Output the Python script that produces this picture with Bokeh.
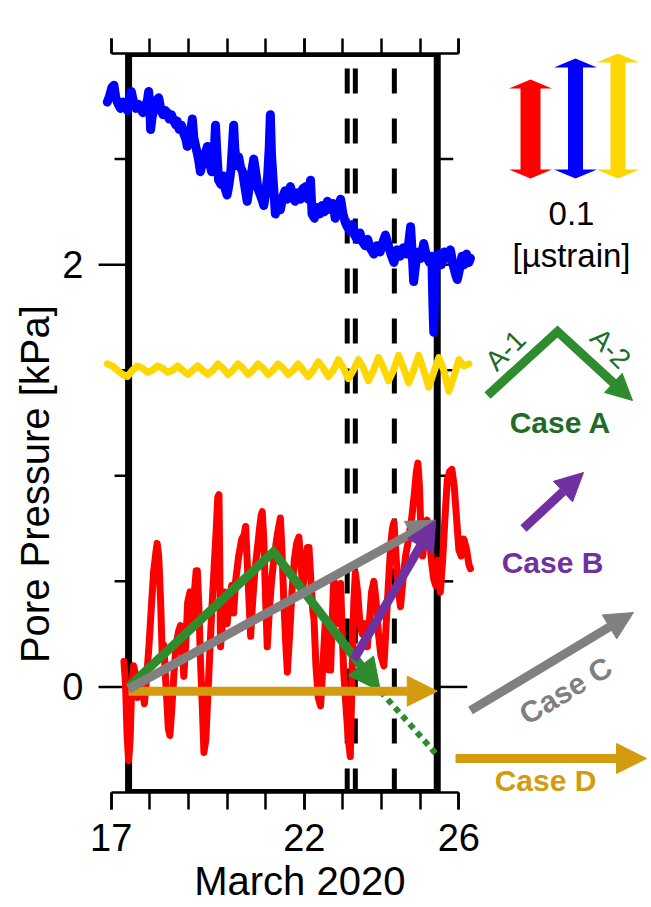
import math
from bokeh.plotting import figure
from bokeh.models import Range1d, FixedTicker, LinearAxis, Arrow, NormalHead, Label
from bokeh.embed import file_html
from bokeh.resources import INLINE

# ---------------- data ----------------
blue_days = [16.90, 16.96, 17.02, 17.07, 17.12, 17.18, 17.24, 17.30, 17.36, 17.42,
             17.48, 17.52, 17.58, 17.64, 17.70, 17.76, 17.82, 17.88, 17.94, 17.97,
             18.00, 18.02, 18.06, 18.12, 18.18, 18.23, 18.28, 18.34, 18.40, 18.45,
             18.50, 18.56, 18.62, 18.68, 18.71, 18.76, 18.82, 18.88, 18.94, 18.97,
             19.02, 19.07, 19.10, 19.14, 19.20, 19.26, 19.31, 19.36, 19.42, 19.49,
             19.54, 19.60, 19.66, 19.70, 19.73, 19.78, 19.84, 19.90, 19.95, 20.00,
             20.05, 20.10, 20.15, 20.17, 20.20, 20.25, 20.30, 20.35, 20.40, 20.45,
             20.52, 20.57, 20.62, 20.69, 20.74, 20.80, 20.86, 20.92, 20.95, 21.00,
             21.05, 21.09, 21.12, 21.15, 21.20, 21.25, 21.30, 21.38, 21.44, 21.50,
             21.56, 21.64, 21.70, 21.76, 21.82, 21.90, 21.96, 22.04, 22.10, 22.16,
             22.20, 22.26, 22.33, 22.40, 22.46, 22.52, 22.60, 22.68, 22.74, 22.80,
             22.86, 22.94, 23.00, 23.06, 23.11, 23.18, 23.24, 23.30, 23.37, 23.44,
             23.50, 23.57, 23.64, 23.70, 23.80, 23.88, 23.96, 24.04, 24.10, 24.16,
             24.24, 24.32, 24.40, 24.48, 24.56, 24.64, 24.70, 24.75, 24.79, 24.83,
             24.88, 24.95, 25.02, 25.09, 25.16, 25.24, 25.30, 25.33, 25.35, 25.37,
             25.40, 25.47, 25.55, 25.62, 25.70, 25.78, 25.85, 25.92, 25.96, 26.02,
             26.08, 26.14, 26.20, 26.26, 26.30]
blue_vals = [2.77, 2.80, 2.84, 2.85, 2.79, 2.76, 2.74, 2.77, 2.75, 2.73,
             2.80, 2.82, 2.77, 2.74, 2.76, 2.74, 2.72, 2.75, 2.78, 2.82,
             2.75, 2.64, 2.70, 2.74, 2.78, 2.79, 2.74, 2.71, 2.73, 2.72,
             2.69, 2.71, 2.68, 2.66, 2.68, 2.64, 2.66, 2.62, 2.59, 2.56,
             2.60, 2.65, 2.69, 2.60, 2.55, 2.50, 2.44, 2.48, 2.52, 2.56,
             2.49, 2.44, 2.50, 2.66, 2.55, 2.40, 2.38, 2.42, 2.36, 2.33,
             2.38, 2.45, 2.60, 2.66, 2.55, 2.47, 2.51, 2.46, 2.44, 2.38,
             2.30, 2.36, 2.42, 2.50, 2.44, 2.36, 2.33, 2.30, 2.28, 2.34,
             2.42, 2.55, 2.71, 2.52, 2.38, 2.24, 2.30, 2.26, 2.32, 2.35,
             2.31, 2.37, 2.32, 2.30, 2.34, 2.31, 2.36, 2.37, 2.31, 2.40,
             2.24, 2.22, 2.27, 2.24, 2.28, 2.25, 2.30, 2.26, 2.29, 2.22,
             2.27, 2.31, 2.24, 2.20, 2.18, 2.16, 2.19, 2.14, 2.12, 2.15,
             2.11, 2.09, 2.12, 2.08, 2.05, 2.09, 2.06, 2.11, 2.14, 2.10,
             2.05, 2.01, 2.07, 2.04, 2.08, 2.05, 2.10, 2.18, 2.06, 1.92,
             2.00, 2.06, 2.03, 2.10, 2.04, 2.01, 2.04, 1.80, 1.68, 1.85,
             2.02, 2.05, 2.00, 2.06, 2.03, 2.07, 2.00, 1.95, 1.93, 1.98,
             2.04, 2.00, 2.05, 2.01, 2.03]

yellow_days = [16.90, 17.03, 17.16, 17.29, 17.42, 17.55, 17.68, 17.81, 17.94, 18.07,
               18.20, 18.33, 18.46, 18.59, 18.72, 18.85, 18.98, 19.11, 19.24, 19.37,
               19.50, 19.63, 19.76, 19.89, 20.02, 20.15, 20.28, 20.41, 20.54, 20.67,
               20.80, 20.93, 21.06, 21.19, 21.32, 21.45, 21.58, 21.71, 21.84, 21.97,
               22.10, 22.23, 22.36, 22.49, 22.62, 22.75, 22.88, 23.01, 23.14, 23.27,
               23.40, 23.53, 23.66, 23.79, 23.92, 24.05, 24.18, 24.31, 24.44, 24.57,
               24.70, 24.83, 24.96, 25.09, 25.22, 25.35, 25.48, 25.61, 25.74, 25.87,
               26.00, 26.13, 26.26]
yellow_vals = [1.53, 1.52, 1.50, 1.48, 1.47, 1.50, 1.52, 1.51, 1.49, 1.50,
               1.52, 1.51, 1.49, 1.50, 1.52, 1.50, 1.48, 1.50, 1.52, 1.50,
               1.48, 1.50, 1.53, 1.51, 1.48, 1.50, 1.53, 1.51, 1.48, 1.50,
               1.53, 1.51, 1.48, 1.50, 1.53, 1.51, 1.48, 1.50, 1.53, 1.50,
               1.47, 1.50, 1.54, 1.51, 1.47, 1.50, 1.55, 1.51, 1.46, 1.50,
               1.55, 1.51, 1.45, 1.50, 1.56, 1.51, 1.45, 1.50, 1.57, 1.51,
               1.44, 1.50, 1.57, 1.50, 1.42, 1.49, 1.56, 1.50, 1.40, 1.47,
               1.55, 1.52, 1.53]

red_days = [17.33, 17.37, 17.41, 17.45, 17.49, 17.53, 17.58, 17.63, 17.68, 17.74,
            17.80, 17.86, 17.92, 17.98, 18.04, 18.10, 18.16, 18.19, 18.23, 18.28,
            18.32, 18.36, 18.42, 18.48, 18.52, 18.57, 18.62, 18.68, 18.74, 18.79,
            18.84, 18.88, 18.93, 18.98, 19.04, 19.10, 19.14, 19.20, 19.23, 19.27,
            19.31, 19.36, 19.40, 19.45, 19.50, 19.55, 19.60, 19.66, 19.72, 19.76,
            19.79, 19.81, 19.83, 19.88, 19.94, 20.00, 20.06, 20.12, 20.17, 20.22,
            20.30, 20.38, 20.44, 20.48, 20.52, 20.57, 20.61, 20.66, 20.72, 20.78,
            20.84, 20.88, 20.91, 20.95, 21.00, 21.04, 21.09, 21.15, 21.22, 21.30,
            21.36, 21.38, 21.42, 21.47, 21.52, 21.56, 21.62, 21.68, 21.74, 21.80,
            21.86, 21.92, 21.97, 22.02, 22.08, 22.12, 22.17, 22.22, 22.25, 22.30,
            22.36, 22.42, 22.48, 22.54, 22.60, 22.64, 22.68, 22.72, 22.76, 22.80,
            22.86, 22.94, 22.98, 23.02, 23.08, 23.14, 23.19, 23.24, 23.28, 23.32,
            23.38, 23.44, 23.50, 23.56, 23.63, 23.68, 23.74, 23.80, 23.86, 23.92,
            23.98, 24.06, 24.12, 24.18, 24.24, 24.28, 24.32, 24.38, 24.44, 24.49,
            24.55, 24.62, 24.70, 24.78, 24.85, 24.90, 24.94, 24.98, 25.02, 25.06,
            25.12, 25.18, 25.24, 25.30, 25.35, 25.40, 25.45, 25.52, 25.58, 25.64,
            25.70, 25.76, 25.82, 25.88, 25.94, 26.00, 26.06, 26.13, 26.20, 26.26,
            26.30]
red_vals = [0.12, 0.02, -0.22, -0.35, -0.25, 0.00, 0.10, 0.06, -0.05, 0.05,
            0.00, -0.08, 0.05, 0.20, 0.38, 0.55, 0.64, 0.68, 0.62, 0.40,
            0.16, 0.20, 0.00, -0.20, -0.23, -0.10, 0.05, 0.20, 0.26, 0.29,
            0.18, 0.05, 0.20, 0.40, 0.45, 0.30, 0.42, 0.55, 0.55, 0.38,
            0.13, -0.10, -0.31, -0.25, -0.05, 0.15, 0.35, 0.55, 0.75, 0.90,
            0.91, 0.60, 0.19, 0.30, 0.45, 0.30, 0.40, 0.48, 0.35, 0.50,
            0.62, 0.70, 0.72, 0.76, 0.60, 0.40, 0.24, 0.40, 0.55, 0.65,
            0.75, 0.81, 0.83, 0.70, 0.40, 0.19, 0.35, 0.50, 0.62, 0.72,
            0.78, 0.80, 0.65, 0.40, 0.20, 0.07, 0.25, 0.45, 0.60, 0.68,
            0.71, 0.55, 0.48, 0.60, 0.66, 0.66, 0.50, 0.36, 0.32, 0.10,
            -0.05, -0.09, 0.10, 0.30, 0.20, 0.08, 0.08, 0.30, 0.51, 0.45,
            0.30, 0.49, 0.25, 0.07, -0.10, -0.25, -0.33, 0.10, 0.40, 0.54,
            0.45, 0.30, 0.25, 0.30, 0.19, 0.30, 0.45, 0.50, 0.40, 0.25,
            0.15, 0.10, 0.30, 0.50, 0.68, 0.75, 0.78, 0.60, 0.45, 0.38,
            0.50, 0.62, 0.70, 0.80, 0.92, 1.02, 1.06, 0.95, 0.72, 0.62,
            0.70, 0.79, 0.70, 0.58, 0.51, 0.48, 0.60, 0.45, 0.60, 0.80,
            0.98, 1.02, 1.03, 0.95, 0.80, 0.65, 0.62, 0.70, 0.65, 0.58,
            0.56]

event_days = [23.11, 23.32, 24.33]          # dashed vertical lines
window_days = [17.45, 25.44]                # thick analysis window
x_major = [17, 22, 26]
x_minor = [17, 18, 19, 20, 21, 22, 23, 24, 25, 26]
y_major = [0, 2]
y_minor = [0.5, 1.0, 1.5, 2.5]

case_a_days = [17.45, 21.20, 23.97]
case_a_vals = [0.00, 0.64, -0.02]
case_a_ext_days = [23.97, 25.47]
case_a_ext_vals = [-0.02, -0.33]
case_b_days = [23.28, 25.40]
case_b_vals = [0.13, 0.79]
case_c_days = [17.45, 25.40]
case_c_vals = [-0.01, 0.79]
case_d_days = [17.45, 25.44]
case_d_vals = [-0.02, -0.02]

RED, BLUE, YEL = "#FF0000", "#0000FF", "#FFD700"
GREEN, GREEN_T = "#2E8B2E", "#226A28"
GRAY, PURPLE, GOLD = "#808080", "#7030A0", "#D39B0E"
FONT = "Liberation Sans"
NB = "\u00a0"

# ---------------- layout ----------------
W, H = 650, 906
FL, FT, FH = 93, 53, 739
FW = W - FL
X0, PPD = 16.542, 38.63
X1 = X0 + FW / PPD
Y0, Y1 = -0.5, 3.0
PPU = FH / (Y1 - Y0)

def dx(px):  # canvas pixel -> data x
    return X0 + (px - FL) / PPD

def vy(py):  # canvas pixel -> data y
    return Y1 - (py - FT) / PPU

p = figure(width=W, height=H, output_backend="svg", toolbar_location=None,
           x_range=Range1d(X0, X1), y_range=Range1d(Y0, Y1),
           x_axis_location=None, y_axis_location=None,
           min_border_left=FL, min_border_right=0,
           min_border_top=FT, min_border_bottom=H - FT - FH)
p.outline_line_color = None
p.grid.visible = False
p.background_fill_color = "white"
p.border_fill_color = "white"

xt = FixedTicker(ticks=x_major, minor_ticks=x_minor)
# trailing no-break spaces shift the centred title to where the reference has it
xb = LinearAxis(ticker=xt, bounds=(x_major[0], x_major[-1]),
                axis_label="March 2020" + NB * 13)
xa = LinearAxis(ticker=xt, bounds=(x_major[0], x_major[-1]))
for ax, out in ((xb, 17), (xa, 15)):
    ax.axis_line_width = 2.5
    ax.major_tick_line_width = 2.5
    ax.minor_tick_line_width = 2.5
    ax.major_tick_in = 0
    ax.minor_tick_in = 0
    ax.major_tick_out = out
    ax.minor_tick_out = out
xb.major_label_standoff = 14
xb.major_label_text_font = FONT
xb.major_label_text_font_size = "38px"
xb.major_label_text_color = "black"
xb.axis_label_text_font = FONT
xb.axis_label_text_font_size = "40px"
xb.axis_label_text_font_style = "normal"
xb.axis_label_text_color = "black"
xb.axis_label_standoff = 5
xa.major_label_text_font_size = "1px"
xa.major_label_text_color = None
xa.major_label_standoff = 0
p.add_layout(xb, "below")
p.add_layout(xa, "above")

yl = LinearAxis(ticker=FixedTicker(ticks=y_major),
                axis_label="Pore Pressure [kPa]" + NB * 11)
yl.axis_line_color = None
yl.major_tick_line_color = None
yl.minor_tick_line_color = None
yl.major_tick_in = 0
yl.major_tick_out = 0
yl.major_label_standoff = 10
yl.major_label_text_font = FONT
yl.major_label_text_font_size = "38px"
yl.major_label_text_color = "black"
yl.axis_label_text_font = FONT
yl.axis_label_text_font_size = "40px"
yl.axis_label_text_font_style = "normal"
yl.axis_label_text_color = "black"
yl.axis_label_standoff = 2
p.add_layout(yl, "left")

# y ticks drawn at the window edges
L, R = window_days
ys = y_major + y_minor
lens = [30] * len(y_major) + [14] * len(y_minor)
p.segment(x0=[L] * len(ys), y0=ys, x1=[L - l / PPD for l in lens], y1=ys,
          line_color="black", line_width=2.5)
lens_r = [30] * len(y_major) + [16] * len(y_minor)
p.segment(x0=[R] * len(ys), y0=ys, x1=[R + l / PPD for l in lens_r], y1=ys,
          line_color="black", line_width=2.5)

# thick window frame
p.quad(left=[L], right=[R], bottom=[Y0], top=[Y1], fill_color=None,
       line_color="black", line_width=7)

# dashed event lines
n = len(event_days)
p.segment(x0=event_days, y0=[vy(68)] * n, x1=event_days, y1=[Y0] * n,
          line_color="black", line_width=5, line_dash="25 25")

# series
p.line(blue_days, blue_vals, line_color=BLUE, line_width=9, line_join="round", line_cap="round")
p.line(yellow_days, yellow_vals, line_color=YEL, line_width=7, line_join="round", line_cap="round")
p.line(red_days, red_vals, line_color=RED, line_width=7, line_join="round", line_cap="round")


def head_base(xp, yp, xt_, yt_, h):
    ddx, ddy = (xt_ - xp) * PPD, (yt_ - yp) * PPU
    f = h / math.hypot(ddx, ddy)
    return xt_ - (xt_ - xp) * f, yt_ - (yt_ - yp) * f


def arrow(xs, ys_, color, lw=9, size=30):
    p.add_layout(Arrow(x_start=xs[0], y_start=ys_[0], x_end=xs[1], y_end=ys_[1],
                       line_color=color, line_width=lw,
                       end=NormalHead(size=size, fill_color=color, line_color=color, line_width=1)))


def bent_arrow(xs, ys_, color, lw=9, size=30):
    bx, by = head_base(xs[-2], ys_[-2], xs[-1], ys_[-1], size - 3)
    p.line(xs[:-1] + [bx], ys_[:-1] + [by], line_color=color, line_width=lw, line_join="miter")
    p.add_layout(Arrow(x_start=bx, y_start=by, x_end=xs[-1], y_end=ys_[-1],
                       line_alpha=0, line_width=1,
                       end=NormalHead(size=size, fill_color=color, line_color=color, line_width=1)))


# Case arrows in the plot
bent_arrow(case_a_days, case_a_vals, GREEN, 9, 32)
p.line(case_a_ext_days, case_a_ext_vals, line_color=GREEN, line_width=6, line_dash="6 5")
arrow(case_d_days, case_d_vals, GOLD, 9, 30)
arrow(case_c_days, case_c_vals, GRAY, 9, 28)
arrow(case_b_days, case_b_vals, PURPLE, 9, 30)


def label(text, px, py, size, color="black", angle=0.0, bold=False):
    p.add_layout(Label(x=dx(px), y=vy(py), text=text, text_font=FONT,
                       text_font_size=f"{size}px", text_color=color,
                       text_font_style="bold" if bold else "normal",
                       text_align="center", text_baseline="middle",
                       angle=math.radians(angle)))

# ---------------- key on the right ----------------
def dbl_arrow(cx, top, bot, sw, color, hw=21.5, hh=9):
    pts = [(cx, top), (cx + hw, top + hh), (cx + sw, top + hh), (cx + sw, bot - hh),
           (cx + hw, bot - hh), (cx, bot), (cx - hw, bot - hh), (cx - sw, bot - hh),
           (cx - sw, top + hh), (cx - hw, top + hh)]
    p.patch([dx(a) for a, _ in pts], [vy(b) for _, b in pts], fill_color=color, line_color=None)

dbl_arrow(530, 79, 178, 10, RED)
dbl_arrow(575, 58, 178, 7.5, BLUE)
dbl_arrow(617.5, 53, 178, 7.5, YEL)

label("0.1", 571, 213, 33)
label("[\u00b5strain]", 571, 255, 33)

# Case A key
bent_arrow([dx(487), dx(557), dx(632)], [vy(395), vy(331), vy(400)], GREEN, 9, 26)
label("A-1", 505, 350, 28, GREEN_T, 45)
label("A-2", 610, 348, 28, GREEN_T, -45)
label("Case A", 560, 422, 30, GREEN_T, bold=True)
# Case B key
arrow([dx(523), dx(583)], [vy(528), vy(472)], PURPLE, 9, 28)
label("Case B", 552, 562, 30, PURPLE, bold=True)
# Case C key
arrow([dx(470), dx(633)], [vy(710), vy(612)], GRAY, 9, 28)
label("Case C", 565, 690, 30, GRAY, 31, bold=True)
# Case D key
arrow([dx(455), dx(646)], [vy(758), vy(758)], GOLD, 9, 30)
label("Case D", 545, 780, 30, GOLD, bold=True)

open("out.html", "w").write(file_html(p, INLINE))
